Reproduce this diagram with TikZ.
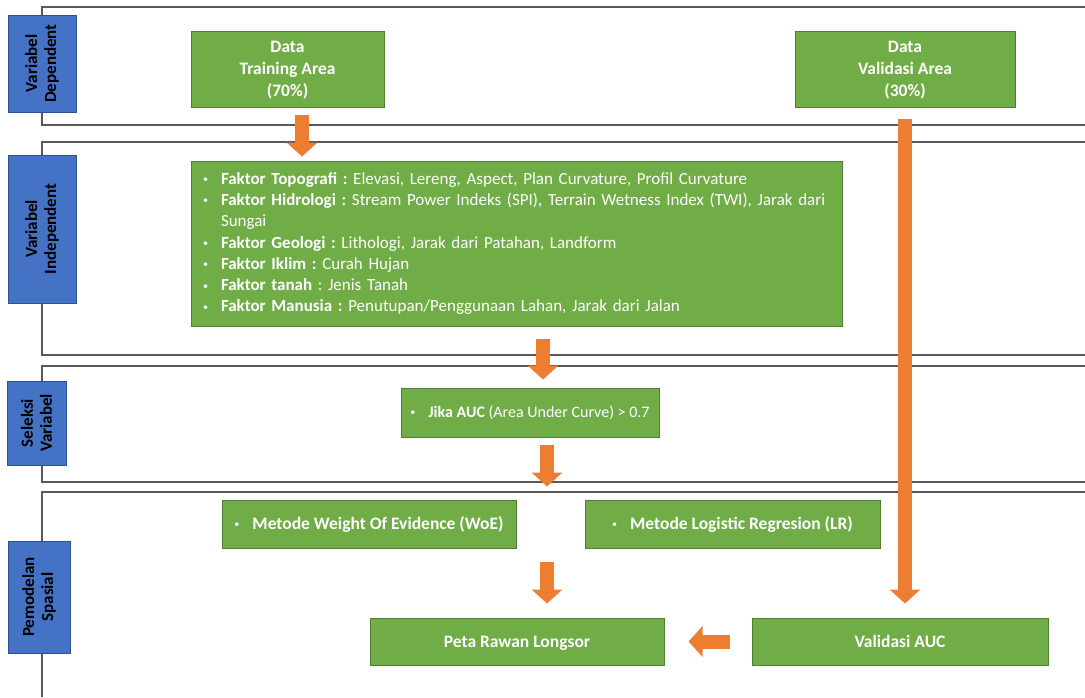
\documentclass[tikz,border=0pt]{standalone}
\usepackage{fontspec}
\setmainfont{Carlito}
\usetikzlibrary{arrows.meta,positioning}

\definecolor{hijau}{HTML}{70AD47}
\definecolor{hijautepi}{HTML}{507E32}
\definecolor{biru}{HTML}{4472C4}
\definecolor{birutepi}{HTML}{2F528F}
\definecolor{oranye}{HTML}{ED7D31}
\definecolor{garis}{HTML}{595959}

\frenchspacing
\newcommand{\butir}{\makebox[18pt][l]{\fontsize{10}{10}\selectfont\raisebox{0.3ex}{\textbullet}}}

\tikzset{
  kotak/.style={draw=hijautepi, line width=1pt, fill=hijau, text=white, align=center, inner sep=2pt,
    font=\fontsize{17}{22}\selectfont},
  tebal/.style={font=\bfseries\fontsize{17.5}{22}\selectfont, text depth=0pt},
  lajur/.style={draw=birutepi, line width=1pt, fill=biru, text=black, align=center, rotate=90, inner sep=1pt,
    font=\bfseries\fontsize{17}{19}\selectfont},
  batas/.style={draw=garis, line width=1.2pt},
  panah/.style={draw=oranye, line width=14pt, -{Triangle[width=30pt,length=14pt]}},
}

\begin{document}
\begin{tikzpicture}[x=1pt,y=-1pt]
\useasboundingbox (0,0) rectangle (1085,697);

% lanes
\draw[batas] (1085,7) -- (42,7) -- (42,125) -- (1085,125);
\draw[batas] (1085,142) -- (42,142) -- (42,355) -- (1085,355);
\draw[batas] (1085,366) -- (42,366) -- (42,482) -- (1085,482);
\draw[batas] (1085,492) -- (42,492) -- (42,697);

% lane titles
\node[lajur, minimum width=97pt, minimum height=68pt] (dep) at (42,63.5) {Variabel\\Dependent};
\node[lajur, minimum width=148pt, minimum height=68pt] (indep) at (42,229) {Variabel\\Independent};
\node[lajur, minimum width=84pt, minimum height=59pt] (seleksi) at (36.5,423) {Seleksi\\Variabel};
\node[lajur, minimum width=112pt, minimum height=62pt] (model) at (39,597) {Pemodelan\\Spasial};

% boxes
\node[kotak, tebal, minimum width=193pt, minimum height=76pt] (train) at (287.5,69) {Data\\Training Area\\(70\%)};
\node[kotak, tebal, minimum width=220pt, minimum height=76pt] (valdata) at (905,69) {Data\\Validasi Area\\(30\%)};
\node[kotak, font=\fontsize{17}{21.3}\selectfont, align=left, text width=627pt, inner xsep=12pt, minimum height=165pt] (faktor) at (516.5,243.5) {%
\butir\textbf{Faktor Topografi :} Elevasi, Lereng, Aspect, Plan Curvature, Profil Curvature\\
\butir\textbf{Faktor Hidrologi :} Stream Power Indeks (SPI), Terrain Wetness Index (TWI), Jarak dari\\
\hspace*{18pt}Sungai\\
\butir\textbf{Faktor Geologi :} Lithologi, Jarak dari Patahan, Landform\\
\butir\textbf{Faktor Iklim :} Curah Hujan\\
\butir\textbf{Faktor tanah} : Jenis Tanah\\
\butir\textbf{Faktor Manusia :} Penutupan/Penggunaan Lahan, Jarak dari Jalan};
\node[kotak, font=\fontsize{16}{22}\selectfont, minimum width=258pt, minimum height=49pt] (jika) at (530,412.5) {\butir\textbf{Jika AUC} (Area Under Curve) > 0.7};
\node[kotak, minimum width=294pt, minimum height=48pt] (woe) at (369,524) {\butir{\bfseries\fontsize{17.5}{22}\selectfont Metode Weight Of Evidence (WoE)}};
\node[kotak, minimum width=295pt, minimum height=48pt] (lr) at (732.5,524) {\butir{\bfseries\fontsize{17.5}{22}\selectfont Metode Logistic Regresion (LR)}};
\node[kotak, tebal, minimum width=294pt, minimum height=47pt] (peta) at (517,641.5) {Peta Rawan Longsor};
\node[kotak, tebal, minimum width=296pt, minimum height=47pt] (vauc) at (900,641.5) {Validasi AUC};

\coordinate (gabung) at (547,548);

% arrows
\draw[panah, shorten <=7pt, shorten >=4pt] ([xshift=14.5pt]train.south) -- ([xshift=14.5pt]train.south |- faktor.north);
\draw[panah, shorten <=12pt, shorten >=8pt] ([xshift=13pt]jika.north |- faktor.south) -- ([xshift=13pt]jika.north);
\draw[panah, shorten <=7pt, shorten >=13pt] (gabung |- jika.south) -- (gabung |- woe.north);
\draw[panah, shorten <=14pt, shorten >=14pt] (gabung) -- (gabung |- peta.north);
\draw[panah, shorten <=11pt, shorten >=14pt] (valdata.south) -- (valdata.south |- vauc.north);
\draw[panah, shorten <=22pt, shorten >=24pt] (vauc.west) -- (peta.east);
\end{tikzpicture}
\end{document}
